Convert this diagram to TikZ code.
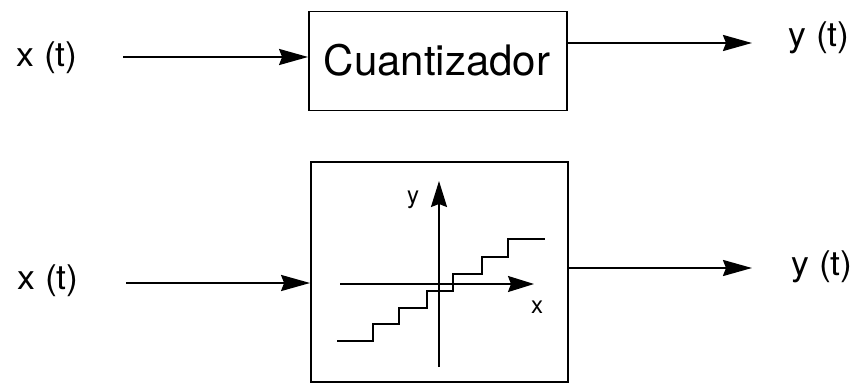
\documentclass[tikz,border=0pt]{standalone}
\usepackage{fontspec}
\setmainfont{TeX Gyre Heros}
\usetikzlibrary{arrows.meta}
\begin{document}
\begin{tikzpicture}[x=1pt,y=-1pt,
  blk/.style={draw,line width=1.8pt,inner sep=0pt},
  sig/.style={line width=2.2pt,-{Stealth[length=29pt,width=16pt,inset=3pt]}},
  lbl/.style={font=\fontsize{34}{40}\selectfont,inner sep=0pt,xscale=1.05},
  axl/.style={font=\fontsize{24}{28}\selectfont,inner sep=0pt},
  axis/.style={line width=1.8pt,-{Stealth[length=26pt,width=16pt,inset=3pt]}}]
\useasboundingbox (0,0) rectangle (857,385);
% top
\node[blk,minimum width=258pt,minimum height=99pt] (q) at (438,61) {};
\node[font=\fontsize{42}{46}\selectfont,inner sep=0pt] (qt) at (437,60) {Cuantizador};
\node[lbl] (x1) at (47,58) {x (t)};
\node[lbl] (y1) at (819,38) {y (t)};
\coordinate (a1) at (123,57);
\coordinate (b1) at (752,43);
\draw[sig] (a1) -- (a1 -| q.west);
\draw[sig] (b1 -| q.east) -- (b1);
% bottom
\node[blk,minimum width=257pt,minimum height=220pt] (p) at (439.5,272) {};
\node[lbl] (x2) at (48,281) {x (t)};
\node[lbl] (y2) at (822,267) {y (t)};
\coordinate (a2) at (126,283);
\coordinate (b2) at (752,268);
\draw[sig] (a2) -- (a2 -| p.west);
\draw[sig] (b2 -| p.east) -- (b2);
% axes
\coordinate (ya) at (439,367);
\coordinate (yb) at (439,181);
\coordinate (xa) at (340,284);
\coordinate (xb) at (534,284);
\draw[axis] (ya) -- (yb);
\draw[axis] (xa) -- (xb);
\node[axl] (ylab) at (413,200) {y};
\node[axl] (xlab) at (537,307) {x};
% staircase
\draw[line width=1.8pt] (337,341) -- (373,341) -- (373,324) -- (399,324) -- (399,308)
  -- (427,308) -- (427,291) -- (453,291) -- (453,274) -- (482,274) -- (482,257)
  -- (508,257) -- (508,239) -- (545,239);
\end{tikzpicture}
\end{document}
